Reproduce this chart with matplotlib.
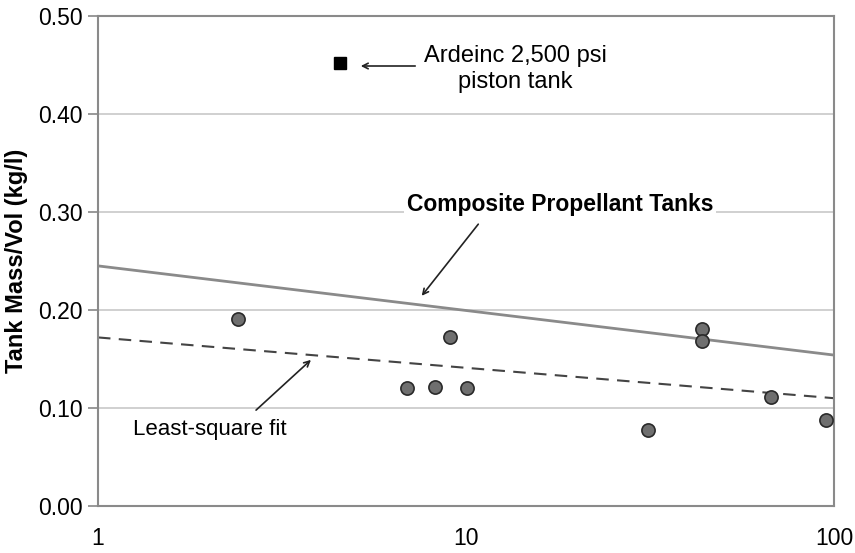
import numpy as np
from matplotlib import pyplot as plt

plt.rcParams['font.family'] = ['Liberation Sans', 'DejaVu Sans']

# composite tanks: volume (log axis) vs mass/volume
vol = [2.4, 9.05, 6.9, 8.25, 10.05, 31.2, 43.8, 43.8, 67.4, 95.0]
massvol = [0.191, 0.172, 0.120, 0.121, 0.120, 0.078, 0.181, 0.168, 0.111, 0.088]

# Ardeinc piston tank
piston_vol = [4.55]
piston_mv = [0.452]

# trend lines (end points at x=1 and x=100)
line_x = [1, 100]
composite_y = [0.245, 0.154]
lsq_y = [0.172, 0.110]

yticks = [0.0, 0.1, 0.2, 0.3, 0.4, 0.5]
xticks = [1, 10, 100]

H = 553  # figure height in px, used to flip pixel coords for annotations

fig = plt.figure(figsize=(8.55, 5.53), dpi=100)
ax = fig.add_axes([0.1146, 0.085, 0.8608, 0.8861])
ax.set_xscale('log')
ax.set_xlim(1, 100)
ax.set_ylim(0, 0.5)

for yv in yticks[1:]:
    ax.axhline(yv, color='#c8c8c8', lw=1.2, zorder=0)

ax.plot(line_x, composite_y, color='#8a8a8a', lw=2, zorder=2)
ax.plot(line_x, lsq_y, color='#444444', lw=1.5, dashes=(6, 4), zorder=2)
ax.plot(vol, massvol, 'o', ms=9.5, mfc='#6f6f6f', mec='#2a2a2a', mew=1.2, zorder=3)
ax.plot(piston_vol, piston_mv, 's', ms=8.5, color='black', zorder=3)

ax.set_yticks(yticks)
ax.set_yticklabels(['%.2f' % v for v in yticks])
ax.set_xticks(xticks)
ax.set_xticklabels(['1', '10', '100'])
ax.minorticks_off()
ax.tick_params(axis='y', length=7, width=1.2, color='#888888', labelsize=16.5, pad=4)
ax.tick_params(axis='x', length=0, labelsize=16.5, pad=15)
for s in ax.spines.values():
    s.set_color('#8a8a8a')
    s.set_linewidth(1.5)

ax.set_ylabel('Tank Mass/Vol (kg/l)', fontsize=17, fontweight='bold', labelpad=7)

arrow = dict(arrowstyle='->', color='#222222', lw=1.2)
ax.text(515, H - 69, 'Ardeinc 2,500 psi\npiston tank', transform=None, ha='center', va='center',
        fontsize=17, linespacing=1.25)
ax.annotate('', xy=(358, H - 66), xycoords='figure pixels',
            xytext=(418, H - 66), textcoords='figure pixels', arrowprops=arrow)
ax.text(560, H - 205, 'Composite Propellant Tanks', transform=None, ha='center', va='center',
        fontsize=16.5, fontweight='bold', bbox=dict(facecolor='white', edgecolor='none', pad=2))
ax.annotate('', xy=(420, H - 298), xycoords='figure pixels',
            xytext=(480, H - 222), textcoords='figure pixels', arrowprops=arrow)
ax.text(133, H - 430, 'Least-square fit', transform=None, ha='left', va='center', fontsize=16)
ax.annotate('', xy=(313, H - 358), xycoords='figure pixels',
            xytext=(254, H - 412), textcoords='figure pixels', arrowprops=arrow)

plt.savefig('out.png', dpi=100)
